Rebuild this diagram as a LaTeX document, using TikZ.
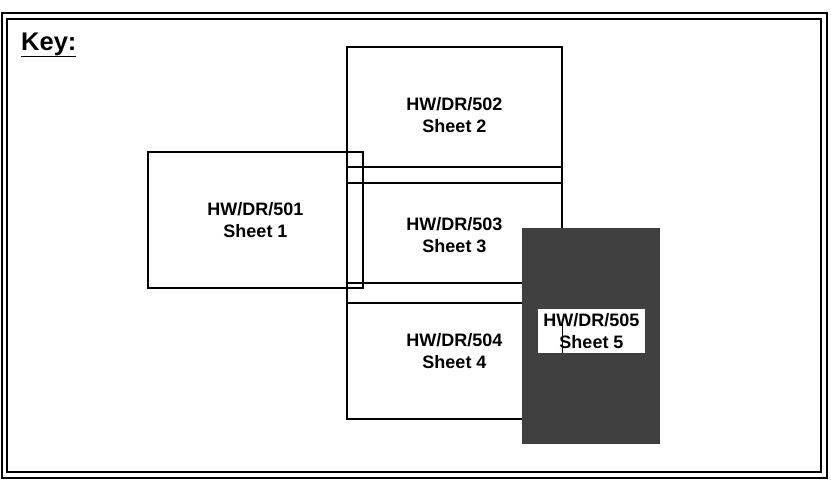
\documentclass[tikz,border=0pt]{standalone}
\usepackage{fontspec}
\setmainfont{Liberation Sans}

\newcommand{\sheettext}{\fontsize{18}{22}\selectfont\bfseries}
\newcommand{\keytext}{\fontsize{25.5}{28}\selectfont\bfseries}

\tikzset{
    sheet/.style={draw, line width=1.1pt, minimum width=215pt, minimum height=136pt,
        inner sep=0pt, align=center, font=\sheettext},
    frame/.style={line width=1.2pt},
}

\begin{document}
\begin{tikzpicture}[x=1pt, y=-1pt]
    \useasboundingbox (0,0) rectangle (831,483);

    % --- MARCO DOBLE ---
    \draw[frame, line width=2pt] (2,13) rectangle (827,478);
    \draw[frame] (7,19) rectangle (821,472);

    % Titulo
    \node[anchor=base west, font=\keytext, inner sep=0pt] (key) at (21,50) {\underline{Key:}};

    % --- HOJAS DEL PLANO ---
    \node[sheet] (s501) at (255.5,220) {HW/DR/501\\Sheet 1};
    \node[sheet] (s502) at (454.5,115) {HW/DR/502\\Sheet 2};
    \node[sheet] (s503) at (454.5,235) {HW/DR/503\\Sheet 3};
    \node[sheet] (s504) at (454.5,351) {HW/DR/504\\Sheet 4};

    % Hoja 5 (sombreada, encima de las demas)
    \node[fill=black!75, minimum width=138pt, minimum height=216pt, inner sep=0pt] (s505) at (591,336) {};
    \node[fill=white, minimum width=107pt, minimum height=44pt, inner sep=0pt,
        align=center, font=\sheettext] (lbl505) at (591.5,331) {HW/DR/505\\Sheet 5};

    % borde de la hoja 4 visto a traves de la etiqueta
    \draw[line width=1.1pt] (s504.east |- lbl505.south) -- ++(0,-31);
\end{tikzpicture}
\end{document}
